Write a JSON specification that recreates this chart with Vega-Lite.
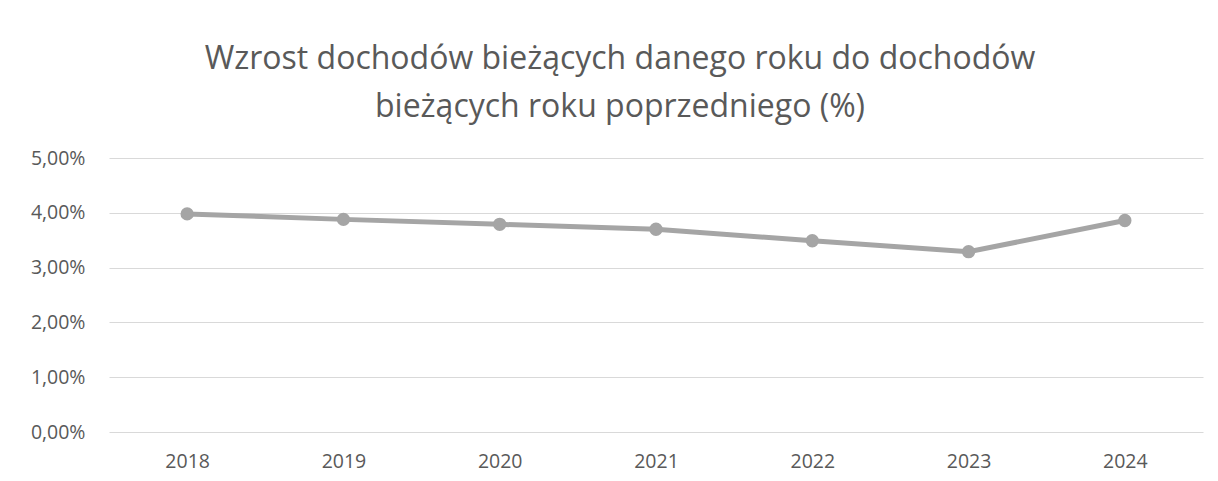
{
  "$schema": "https://vega.github.io/schema/vega-lite/v6.json",
  "autosize": "none",
  "width": 1094,
  "height": 274,
  "padding": {"left": 109, "top": 158, "right": 15, "bottom": 49},
  "background": "white",
  "config": {
    "locale": {"number": {"decimal": ",", "thousands": " ", "grouping": [3], "currency": ["", " zł"]}},
    "view": {"stroke": null},
    "font": "Open Sans"
  },
  "title": {
    "text": ["Wzrost dochodów bieżących danego roku do dochodów", "bieżących roku poprzedniego (%)"],
    "fontSize": 32,
    "fontWeight": "normal",
    "color": "#595959",
    "lineHeight": 48,
    "anchor": "middle",
    "offset": 24,
    "dx": -36,
    "font": "Open Sans"
  },
  "data": {
    "values": [
      {"year": "2018", "value": 0.0398},
      {"year": "2019", "value": 0.0388},
      {"year": "2020", "value": 0.0379},
      {"year": "2021", "value": 0.0370},
      {"year": "2022", "value": 0.0349},
      {"year": "2023", "value": 0.0329},
      {"year": "2024", "value": 0.0386}
    ]
  },
  "encoding": {
    "x": {
      "field": "year",
      "type": "ordinal",
      "scale": {"paddingInner": 0, "paddingOuter": 0},
      "axis": {
        "title": null,
        "labelAngle": 0,
        "labelFontSize": 19.5,
        "labelColor": "#595959",
        "labelPadding": 20,
        "domain": false,
        "ticks": false,
        "grid": false
      }
    },
    "y": {
      "field": "value",
      "type": "quantitative",
      "scale": {"domain": [0, 0.05], "nice": false},
      "axis": {
        "title": null,
        "format": ".2%",
        "values": [0, 0.01, 0.02, 0.03, 0.04, 0.05],
        "labelFontSize": 19.5,
        "labelColor": "#595959",
        "labelPadding": 24,
        "domain": false,
        "ticks": false,
        "grid": true,
        "gridColor": "#D9D9D9",
        "gridWidth": 1
      }
    }
  },
  "layer": [
    {"mark": {"type": "line", "color": "#A5A5A5", "strokeWidth": 5}},
    {"mark": {"type": "point", "filled": true, "color": "#A5A5A5", "size": 177, "opacity": 1}}
  ]
}
